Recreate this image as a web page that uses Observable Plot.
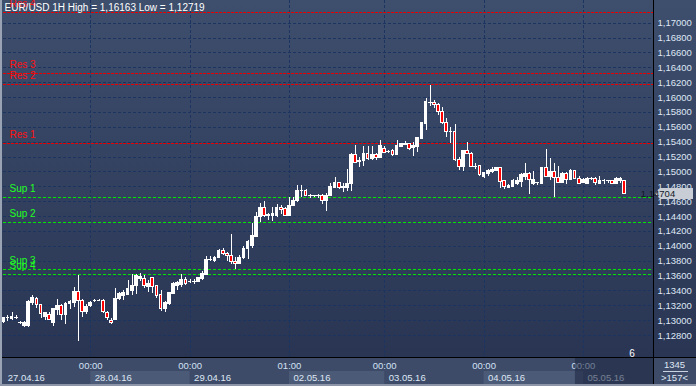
<!DOCTYPE html>
<html><head><meta charset="utf-8">
<script src="https://cdn.jsdelivr.net/npm/d3@7"></script>
<script src="https://cdn.jsdelivr.net/npm/@observablehq/plot@0.6"></script>
<style>
html,body{margin:0;padding:0;background:#3c4b68;}
#chart svg{display:block;}
</style></head><body><div id="chart"></div>
<script>
const opens=[1.12978,1.13031,1.13023,1.13040,1.12969,1.12934,1.12934,1.13236,1.13289,1.13209,1.13045,1.13076,1.12969,1.13147,1.13191,1.13076,1.13222,1.13236,1.13387,1.13267,1.13111,1.13191,1.13262,1.13267,1.13267,1.13102,1.13000,1.13014,1.13289,1.13333,
1.13347,1.13405,1.13463,1.13562,1.13562,1.13450,1.13571,1.13459,1.13338,1.13150,1.13226,1.13360,1.13472,1.13481,1.13553,1.13526,1.13522,1.13517,1.13562,1.13620,1.13817,1.13799,1.13839,1.13942,1.13898,1.13875,1.13795,1.13763,1.13839,1.13965,
1.14010,1.14131,1.14391,1.14516,1.14413,1.14404,1.14413,1.14516,1.14503,1.14404,1.14548,1.14606,1.14745,1.14749,1.14680,1.14673,1.14675,1.14682,1.14606,1.14673,1.14781,1.14852,1.14790,1.14785,1.14839,1.15233,1.15130,1.15144,1.15242,1.15175,
1.15233,1.15189,1.15310,1.15274,1.15279,1.15221,1.15333,1.15360,1.15369,1.15324,1.15333,1.15444,1.15646,1.15930,1.15933,1.15906,1.15803,1.15655,1.15533,1.15542,1.15161,1.15064,1.15279,1.15243,1.15064,1.15073,1.14938,1.14974,1.14997,1.15010,
1.15055,1.14875,1.14786,1.14795,1.14839,1.14862,1.14938,1.14974,1.14839,1.14849,1.14839,1.15055,1.14929,1.14997,1.14920,1.14849,1.14974,1.14893,1.15006,1.14907,1.14849,1.14839,1.14907,1.14907,1.14839,1.14875,1.14872,1.14875,1.14839,1.14875,1.14884];
const highs=[1.13045,1.13067,1.13111,1.13067,1.12987,1.12987,1.13267,1.13333,1.13311,1.13222,1.13111,1.13111,1.13165,1.13289,1.13222,1.13245,1.13267,1.13444,1.13609,1.13289,1.13222,1.13253,1.13289,1.13280,1.13280,1.13120,1.13023,1.13431,1.13378,1.13400,
1.13540,1.13615,1.13615,1.13629,1.13607,1.13540,1.13584,1.13472,1.13405,1.13257,1.13383,1.13508,1.13526,1.13615,1.13584,1.13553,1.13553,1.13584,1.13660,1.13866,1.13866,1.13866,1.13956,1.13965,1.13920,1.14153,1.13850,1.13875,1.14001,1.14077,
1.14310,1.14458,1.14579,1.14606,1.14445,1.14516,1.14561,1.14548,1.14525,1.14651,1.14651,1.14816,1.14816,1.14758,1.14695,1.14686,1.14695,1.14695,1.14704,1.14839,1.14928,1.14861,1.14839,1.15027,1.15242,1.15354,1.15197,1.15340,1.15340,1.15340,
1.15250,1.15422,1.15342,1.15288,1.15297,1.15422,1.15386,1.15413,1.15386,1.15400,1.15467,1.15668,1.15982,1.16163,1.15960,1.15915,1.15870,1.15713,1.15601,1.15637,1.15189,1.15288,1.15400,1.15265,1.15118,1.15086,1.14997,1.15037,1.15055,1.15064,
1.15064,1.14884,1.14830,1.14893,1.14929,1.14974,1.15118,1.14997,1.15010,1.14862,1.15064,1.15297,1.15175,1.15118,1.15073,1.14997,1.14997,1.15028,1.15019,1.14938,1.14907,1.14920,1.14929,1.14929,1.14938,1.14893,1.14884,1.14884,1.14929,1.14929,1.14890];
const lows=[1.12956,1.12987,1.13000,1.13009,1.12952,1.12912,1.12912,1.13209,1.13165,1.13023,1.13000,1.13000,1.12925,1.13067,1.13000,1.12943,1.13156,1.13178,1.12719,1.13045,1.13076,1.13178,1.13245,1.13253,1.13098,1.13000,1.12943,1.13000,1.13267,1.13267,
1.13338,1.13338,1.13347,1.13526,1.13427,1.13383,1.13360,1.13302,1.13123,1.13105,1.13203,1.13347,1.13405,1.13450,1.13472,1.13494,1.13486,1.13508,1.13540,1.13607,1.13799,1.13786,1.13830,1.13875,1.13795,1.13760,1.13690,1.13750,1.13822,1.13817,
1.13965,1.14113,1.14324,1.14382,1.14346,1.14337,1.14391,1.14427,1.14400,1.14404,1.14534,1.14592,1.14660,1.14668,1.14637,1.14651,1.14637,1.14557,1.14471,1.14668,1.14772,1.14758,1.14727,1.14740,1.14730,1.15107,1.15063,1.15071,1.15152,1.15152,
1.15152,1.15175,1.15243,1.15252,1.15212,1.15221,1.15324,1.15351,1.15288,1.15207,1.15265,1.15431,1.15556,1.15879,1.15848,1.15758,1.15637,1.15467,1.15378,1.15144,1.15019,1.15010,1.15234,1.15055,1.15037,1.14938,1.14911,1.14938,1.14983,1.15001,
1.14773,1.14759,1.14773,1.14795,1.14817,1.14786,1.14884,1.14697,1.14817,1.14817,1.14830,1.14920,1.14884,1.14661,1.14839,1.14839,1.14830,1.14884,1.14893,1.14830,1.14839,1.14830,1.14884,1.14817,1.14830,1.14830,1.14839,1.14830,1.14830,1.14839,1.14697];
const closes=[1.13031,1.13036,1.13045,1.13036,1.12971,1.12969,1.13245,1.13298,1.13209,1.13089,1.13102,1.13014,1.13156,1.13200,1.13076,1.13222,1.13245,1.13387,1.13267,1.13111,1.13178,1.13236,1.13267,1.13265,1.13111,1.13031,1.12969,1.13289,1.13356,1.13378,
1.13427,1.13472,1.13598,1.13584,1.13472,1.13494,1.13450,1.13329,1.13150,1.13239,1.13374,1.13494,1.13508,1.13553,1.13490,1.13522,1.13526,1.13571,1.13629,1.13817,1.13820,1.13844,1.13942,1.13902,1.13866,1.13786,1.13763,1.13844,1.13965,1.14055,
1.14144,1.14400,1.14516,1.14413,1.14418,1.14436,1.14516,1.14489,1.14413,1.14548,1.14606,1.14749,1.14740,1.14682,1.14677,1.14675,1.14682,1.14606,1.14682,1.14794,1.14852,1.14785,1.14794,1.14839,1.15233,1.15116,1.15152,1.15242,1.15175,1.15233,
1.15188,1.15342,1.15252,1.15270,1.15221,1.15342,1.15369,1.15369,1.15310,1.15342,1.15458,1.15655,1.15936,1.15924,1.15897,1.15803,1.15655,1.15533,1.15540,1.15156,1.15064,1.15279,1.15243,1.15064,1.15060,1.14952,1.14983,1.15010,1.15028,1.15055,
1.14871,1.14795,1.14817,1.14884,1.14884,1.14952,1.14974,1.14893,1.14893,1.14845,1.15055,1.14938,1.14997,1.14920,1.14849,1.14974,1.14893,1.15019,1.14907,1.14839,1.14893,1.14907,1.14905,1.14849,1.14884,1.14872,1.14875,1.14839,1.14907,1.14898,1.14704];

const dayIdx=[21,45,69,92,116,140];
const dayTimes=["00:00","00:00","01:00","00:00","00:00","00:00"];
const dateIdx=[0,21,45,69,92,116,140];
const dateLabels=["27.04.16","28.04.16","29.04.16","02.05.16","03.05.16","04.05.16","05.05.16"];
const levelNames=["Res 4","Res 3","Res 2","Res 1","Sup 1","Sup 2","Sup 3","Sup 4"];
const levelValues=[1.17140,1.16319,1.16169,1.15378,1.14652,1.14315,1.13683,1.13616];
const yTicks=[1.128,1.130,1.132,1.134,1.136,1.138,1.140,1.142,1.144,1.146,1.148,1.150,1.152,1.154,1.156,1.158,1.160,1.162,1.164,1.166,1.168,1.170];
const titleText="EUR/USD 1H High = 1,16163 Low = 1,12719";
const lastPrice=1.14704;
const barCountTop="1345";
const barCountBottom=">157<";
const cornerNumber="6";

const candles=opens.map((o,i)=>({i,o,h:highs[i],l:lows[i],c:closes[i]}));
const levels=levelNames.map((n,k)=>({name:n,value:levelValues[k],res:n.startsWith("Res")}));
const days=dayIdx.map((i,k)=>({i,t:dayTimes[k]}));
const dates=dateIdx.map((i,k)=>({i:i,t:dateLabels[k]}));
const fmt=v=>v.toFixed(5).replace(".",",");
const FONT="Liberation Sans, Arial, sans-serif";

function background(index, scales, values, dims){
  const {width,height,marginRight,marginBottom}=dims;
  const pb=height-marginBottom, pr=width-marginRight;
  const g=d3.create("svg:g");
  const grad=g.append("defs").append("linearGradient").attr("id","bgGrad").attr("x1",0).attr("y1",0).attr("x2",0).attr("y2",1);
  grad.append("stop").attr("offset","0%").attr("stop-color","#3e4e6d");
  grad.append("stop").attr("offset","100%").attr("stop-color","#293553");
  g.append("rect").attr("x",0).attr("y",0).attr("width",width).attr("height",pb).attr("fill","url(#bgGrad)");
  g.append("rect").attr("x",0).attr("y",pb).attr("width",width).attr("height",marginBottom).attr("fill","#3d4b68");
  const xs=dateIdx.map(i=>scales.x(i));
  dateIdx.forEach((d,k)=>{
    if(k%2===1){
      const x0=xs[k], x1=k+1<xs.length?xs[k+1]:pr;
      g.append("rect").attr("x",x0).attr("y",pb+14).attr("width",x1-x0).attr("height",height-pb-16).attr("fill","#4b5a77");
    }
  });
  return g.node();
}
function overlay(index, scales, values, dims){
  const {width,height,marginRight,marginBottom}=dims;
  const pb=height-marginBottom, pr=width-marginRight;
  const g=d3.create("svg:g");
  const x5=scales.x(dateIdx[dateIdx.length-1]);
  g.append("rect").attr("x",x5-8).attr("y",pb).attr("width",pr-x5+8).attr("height",height-pb).attr("fill","#1e2740").attr("fill-opacity",0.55);
  g.append("line").attr("x1",pr+0.5).attr("x2",pr+0.5).attr("y1",0).attr("y2",height).attr("stroke","#000");
  g.append("line").attr("x1",0).attr("x2",width).attr("y1",pb+0.5).attr("y2",pb+0.5).attr("stroke","#000");
  g.append("rect").attr("x",0).attr("y",0).attr("width",2).attr("height",height).attr("fill","#9aa3b4");
  g.append("rect").attr("x",0).attr("y",height-2).attr("width",width).attr("height",2).attr("fill","#8c96a8");
  const y=scales.y(lastPrice);
  g.append("path").attr("d",`M${pr+2},${y} L${pr+7},${y-5.5} L${width-3},${y-5.5} L${width-3},${y+5.5} L${pr+7},${y+5.5} Z`).attr("fill","#c9ced6");
  g.append("text").attr("x",pr+5).attr("y",y).attr("dy","0.35em").attr("font-size",9.5).attr("font-family",FONT).attr("fill","#101828").text(fmt(lastPrice));
  const cx=(pr+width)/2;
  g.append("text").attr("x",cx).attr("y",pb+8).attr("dy","0.35em").attr("text-anchor","middle").attr("font-size",9.5).attr("font-family",FONT).attr("fill","#dfe7f5").text(barCountTop);
  g.append("line").attr("x1",pr+10).attr("x2",width-8).attr("y1",pb+14.5).attr("y2",pb+14.5).attr("stroke","#c9d2e0");
  g.append("text").attr("x",cx).attr("y",pb+21).attr("dy","0.35em").attr("text-anchor","middle").attr("font-size",9.5).attr("font-family",FONT).attr("fill","#dfe7f5").text(barCountBottom);
  g.append("text").attr("x",pr-21).attr("y",pb-4).attr("dy","0.35em").attr("font-size",10).attr("font-family",FONT).attr("fill","#ffffff").text(cornerNumber);
  return g.node();
}

const chart=Plot.plot({
  width:696, height:386,
  marginLeft:3, marginRight:43, marginTop:0, marginBottom:29,
  style:{background:"#3c4b68", fontFamily:FONT, fontSize:"9.5px", color:"#dfe7f5"},
  x:{type:"linear", domain:[0,150], range:[3.3,624.3], axis:null},
  y:{domain:[1.128,1.170], range:[335,22.7], axis:null},
  marks:[
    background,
    Plot.ruleY(yTicks,{stroke:"#1b3460", strokeDasharray:"3,2", shapeRendering:"crispEdges"}),
    Plot.ruleX(days,{x:"i", stroke:"#1b3460", strokeDasharray:"3,2", shapeRendering:"crispEdges"}),
    Plot.ruleY(levels.filter(d=>d.res),{y:"value", stroke:"#e80000", strokeDasharray:"3,1", shapeRendering:"crispEdges"}),
    Plot.ruleY(levels.filter(d=>!d.res),{y:"value", stroke:"#00e600", strokeDasharray:"3,2", shapeRendering:"crispEdges"}),
    Plot.text(levels.filter(d=>d.res),{y:"value", text:"name", frameAnchor:"left", dx:6, dy:-9, textAnchor:"start", fill:"#ff1010", fontSize:10}),
    Plot.text(levels.filter(d=>!d.res),{y:"value", text:"name", frameAnchor:"left", dx:6, dy:-9, textAnchor:"start", fill:"#22ff22", fontSize:10}),
    Plot.ruleX(candles,{x:"i", y1:"l", y2:"h", stroke:"#ffffff", strokeWidth:1, shapeRendering:"crispEdges"}),
    Plot.rect(candles.filter(d=>d.c>=d.o),{x1:d=>d.i-0.33, x2:d=>d.i+0.33, y1:"o", y2:"c", fill:"#ffffff", stroke:"#ffffff", strokeWidth:1, shapeRendering:"crispEdges"}),
    Plot.rect(candles.filter(d=>d.c<d.o),{x1:d=>d.i-0.33, x2:d=>d.i+0.33, y1:"o", y2:"c", fill:"#ff0000", stroke:"#ffffff", strokeWidth:1, shapeRendering:"crispEdges"}),
    Plot.axisY({anchor:"right", ticks:yTicks, tickSize:0, tickPadding:4, tickFormat:fmt, label:null, fill:"#dfe7f5", fontSize:9.5}),
    Plot.text(days,{x:"i", text:"t", frameAnchor:"bottom", lineAnchor:"middle", dy:8.5, fill:"#d3e0f5", fontSize:9.5}),
    Plot.text(dates,{x:"i", text:"t", frameAnchor:"bottom", lineAnchor:"middle", dy:20.5, dx:4, textAnchor:"start", fill:"#dfe7f5", fontSize:9.5}),
    overlay,
    Plot.text([titleText],{frameAnchor:"top-left", text:d=>d, dx:1, dy:7.5, lineAnchor:"middle", textAnchor:"start", fill:"#ffffff", fontSize:10})
  ]
});
document.getElementById("chart").appendChild(chart);
</script>
</body></html>
